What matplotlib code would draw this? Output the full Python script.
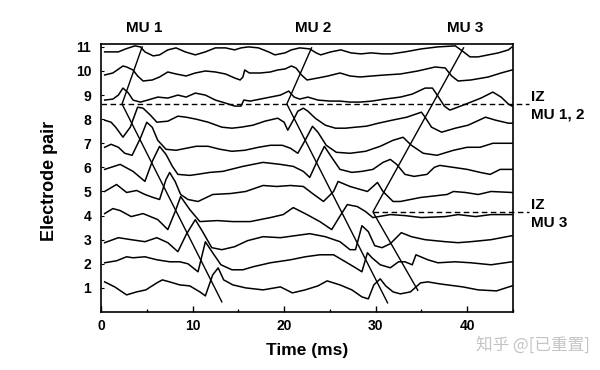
import numpy as np
import matplotlib
matplotlib.use("Agg")
import matplotlib.pyplot as plt
from matplotlib.transforms import blended_transform_factory

# surface EMG traces, one per electrode pair: (time in ms, amplitude in a.u.)
# one electrode-pair step on the y axis equals 24.1 amplitude units
ch1 = [(0.4, 6), (1.5, 1), (2.8, -7), (3.9, -4), (4.9, -2), (6.1, 5), (6.7, 8), (7.5, 6),
       (8.6, 3), (9.7, 2), (10.8, -4), (11.4, -8), (12.2, 13), (12.8, 20), (13.4, 8),
       (14.4, 3), (15.8, 0), (17.7, -2), (19.6, 1), (20.9, -5), (22.3, -2), (23.7, 2),
       (24.7, 7), (26.1, 3), (27.4, -2), (28.5, -9), (29.2, -11), (29.8, 3), (30.5, 9),
       (31.1, 2), (31.9, -4), (32.7, -6), (33.8, -4), (34.9, 5), (35.7, 6), (37.0, 4),
       (39.5, 1), (41.2, -2), (43.2, -3), (44.9, 2)]
ch2 = [(0.4, 1), (1.7, 3), (2.8, 7), (3.5, 6), (4.8, 7), (6.1, 4), (7.5, 2), (8.6, 2),
       (9.5, 0), (10.6, -8), (11.4, 22), (12.2, 11), (13.1, -1), (14.3, -6), (15.5, -6),
       (16.6, -3), (18.5, 1), (20.7, 4), (22.3, 7), (23.9, 9), (25.4, 9), (26.7, 2),
       (27.8, -4), (28.5, -8), (29.1, 11), (29.6, 6), (30.5, -1), (31.6, -4), (32.5, 2),
       (33.2, 2), (34.0, -1), (34.4, 9), (35.7, 4), (36.8, 1), (38.7, 2), (40.4, 1),
       (42.6, -1), (44.9, 2)]
ch3 = [(0.4, -3), (1.9, 2), (3.3, 0), (4.8, -2), (6.1, 2), (7.3, -3), (8.4, -12), (9.3, 5),
       (10.3, 20), (11.1, 8), (12.1, -8), (13.2, -10), (14.6, -7), (16.0, -1), (17.7, 3),
       (19.6, 2), (21.2, 4), (22.8, 6), (24.5, 3), (26.1, -2), (27.2, -10), (27.8, -10),
       (28.5, 14), (29.2, 8), (29.9, -6), (30.7, -8), (31.6, -4), (32.8, 7), (33.9, 3),
       (35.4, 0), (37.6, -2), (39.0, -3), (40.4, -2), (42.6, 0), (44.9, 4)]
ch4 = [(0.4, 2), (1.3, 7), (2.1, 5), (3.3, -1), (4.6, 2), (6.2, -4), (7.3, -14), (8.1, 4),
       (8.7, 19), (9.7, 6), (10.8, -6), (12.7, -5), (14.4, -6), (16.3, -6), (18.5, -2),
       (19.9, 1), (21.0, 8), (22.5, 1), (23.9, -6), (25.2, -14), (26.0, -2), (26.9, 11),
       (28.0, 9), (28.9, 4), (29.7, -2), (31.6, 1), (33.2, 0), (35.0, -2), (37.6, -1),
       (39.0, 1), (40.9, -1), (42.6, 1), (44.9, 1)]
ch5 = [(0.4, 0), (1.7, 7), (2.8, -1), (3.9, 1), (4.8, -3), (5.7, -6), (6.4, -8), (7.1, 12),
       (7.5, 19), (8.1, 10), (8.7, -3), (9.5, -8), (10.6, -10), (12.2, -3), (14.2, -2),
       (15.8, 0), (17.7, 6), (19.2, 5), (20.7, 6), (22.1, 5), (23.1, -2), (24.3, -10),
       (25.4, 0), (25.9, 10), (27.2, 5), (29.1, 0), (30.2, 9), (30.8, 0), (31.9, -10),
       (32.7, -10), (34.9, -6), (37.8, -3), (38.5, 0), (39.8, -1), (41.2, -3), (42.6, 0),
       (44.9, -1)]
ch6 = [(0.4, -2), (2.1, 3), (3.5, -4), (4.8, -14), (5.6, 6), (6.4, 21), (7.1, 13), (7.8, 1),
       (8.4, -7), (9.7, -8), (10.5, -7), (11.9, -5), (13.3, -4), (15.5, 1), (17.7, 5),
       (19.6, 3), (21.0, 1), (22.1, -4), (22.8, -10), (23.7, 8), (24.4, 21), (25.2, 10),
       (26.1, -2), (27.4, -5), (28.5, -4), (29.7, -2), (30.8, 5), (31.6, 8), (32.3, 3),
       (33.2, -7), (34.2, -9), (35.6, -7), (36.4, 0), (37.0, 2), (38.5, 0), (40.0, -2),
       (41.4, -5), (42.5, -7), (43.6, -2), (44.9, -2)]
ch7 = [(0.4, -4), (1.1, -1), (1.9, -4), (2.6, -10), (3.4, -12), (4.3, 5), (5.0, 21),
       (5.6, 16), (6.2, 3), (7.1, -6), (8.2, -7), (9.3, -5), (10.4, -3), (11.7, -3),
       (13.0, -6), (14.3, -8), (15.7, -7), (17.2, -4), (18.5, -2), (19.8, -2), (20.7, -5),
       (21.5, -10), (22.3, 3), (23.1, 17), (23.7, 11), (24.6, -2), (25.7, -9), (27.2, -10),
       (28.9, -8), (30.5, -3), (31.9, 3), (33.0, 6), (33.9, -2), (35.2, -10), (36.7, -12),
       (38.5, -7), (40.0, -4), (41.4, -4), (42.8, 0), (44.2, 0), (44.9, 0)]
ch8 = [(0.4, -1), (1.1, -3), (1.6, -8), (2.4, -18), (3.2, -8), (4.0, 12), (4.6, 11), (5.4, 4),
       (6.1, -3), (7.3, -2), (8.4, 3), (9.3, 2), (10.4, 0), (11.7, -3), (13.2, -8), (14.3, -9),
       (15.3, -8), (16.6, -6), (17.9, -2), (19.3, 1), (20.0, -3), (20.4, -11), (21.0, -1),
       (21.5, 8), (22.1, 11), (22.6, 8), (23.4, 1), (24.5, -6), (25.6, -9), (26.7, -9),
       (27.8, -8), (29.0, -7), (30.3, -4), (31.8, -1), (33.4, 2), (35.0, 7), (35.4, 2),
       (36.1, -8), (37.2, -13), (38.7, -9), (40.1, -6), (42.0, 2), (43.1, -1), (44.5, -4),
       (44.9, -4)]
ch9 = [(0.4, -5), (1.3, -4), (1.9, 0), (2.4, 7), (3.0, 2), (3.5, -5), (4.3, -7), (5.1, -5),
       (6.2, -2), (7.3, -3), (8.4, 0), (9.3, -2), (10.3, 2), (11.4, 0), (12.5, -5), (13.6, -8),
       (14.6, -11), (15.3, -11), (15.6, -5), (16.3, -6), (17.4, -4), (18.5, -2), (19.6, 0),
       (20.5, 4), (21.1, -2), (21.7, -4), (22.6, -2), (23.7, -5), (25.0, -6), (26.1, -6),
       (27.2, -7), (28.3, -7), (29.6, -6), (31.0, -4), (32.7, -2), (34.0, 1), (35.4, 7),
       (36.2, 7), (36.8, -1), (37.5, -11), (38.1, -15), (39.0, -12), (40.4, -7), (41.5, -3),
       (42.8, 3), (43.7, -2), (44.5, -9), (44.9, -11)]
ch10 = [(0.4, -4), (1.3, -2), (2.4, 5), (2.8, 4), (3.5, 1), (4.0, -5), (4.6, -10), (5.6, -9),
        (6.4, -6), (7.3, -1), (8.2, -3), (9.3, -5), (10.3, -2), (11.4, 0), (12.5, -1),
        (13.6, -3), (14.6, -7), (15.2, -9), (15.5, -6), (15.7, 1), (16.2, -2), (17.4, -2),
        (18.5, -1), (19.3, 1), (20.1, 2), (20.8, 5), (21.3, 3), (21.9, -4), (22.5, -9),
        (23.7, -7), (24.8, -5), (26.1, -2), (27.2, -5), (28.3, -6), (29.6, -5), (31.0, -4),
        (32.7, -3), (34.6, 0), (36.5, 4), (37.6, 3), (38.3, -5), (39.0, -10), (40.4, -9),
        (42.3, -6), (43.7, -2), (44.9, 1)]
ch11 = [(0.4, -5), (1.9, -5), (2.7, -2), (3.7, 1), (4.3, 0), (4.8, -5), (5.7, -9), (6.4, -8),
        (7.3, -3), (8.2, -1), (9.2, -5), (10.3, -8), (11.4, -5), (12.5, -1), (13.6, -1),
        (14.6, -3), (15.3, -1), (16.1, 0), (17.2, -1), (18.3, -5), (19.0, -8), (20.1, -6),
        (20.8, -3), (21.7, -1), (22.8, -2), (23.5, -6), (24.0, -8), (25.1, -5), (26.2, -3),
        (27.3, -6), (28.4, -7), (29.5, -6), (30.8, -7), (31.7, -7), (33.2, -5), (35.0, -2),
        (36.8, 0), (38.7, 1), (39.6, -5), (40.3, -10), (41.2, -10), (42.3, -8), (43.4, -6),
        (44.5, -3), (44.9, 0)]

channels = list(range(1, 12))
traces = [ch1, ch2, ch3, ch4, ch5, ch6, ch7, ch8, ch9, ch10, ch11]
units_per_pair = 24.1

# motor units: innervation zone (time, pair) and the ends of the propagation lines
mu_labels = ["MU 1", "MU 2", "MU 3"]
iz_time = [2.3, 20.3, 29.7]
iz_pair = [8.63, 8.63, 4.15]
up_end_time = [4.5, 23.0, 39.6]
up_end_pair = [11.0, 10.96, 10.96]
down_end_time = [13.2, 31.3, 34.6]
down_end_pair = [0.42, 0.38, 0.9]
iz_notes = ["MU 1, 2", "MU 3"]

plt.rcParams['font.family'] = ['Liberation Sans', 'DejaVu Sans']
plt.rcParams['font.weight'] = 'bold'
plt.rcParams['axes.labelweight'] = 'bold'

fig = plt.figure(figsize=(6, 3.7), dpi=100)
ax = fig.add_axes([0.1683, 0.1568, 0.6867, 0.7243])

# the traces
for ch, tr in zip(channels, traces):
    t = np.array([p[0] for p in tr])
    a = np.array([p[1] for p in tr])
    ax.plot(t, ch + a / units_per_pair, color='black', lw=1.1, solid_joinstyle='round')

# propagation lines, from the top end through the IZ to the bottom end
for i in range(3):
    ax.plot([up_end_time[i], iz_time[i], down_end_time[i]],
            [up_end_pair[i], iz_pair[i], down_end_pair[i]], color='black', lw=1.0)

# IZ markers (dashed), running out past the frame to the notes
ax.plot([0, 46.8], [iz_pair[0], iz_pair[0]], color='black', lw=1.0,
        ls=(0, (4, 2.5)), clip_on=False)
ax.plot([iz_time[2], 46.8], [iz_pair[2], iz_pair[2]], color='black', lw=1.0,
        ls=(0, (4, 2.5)), clip_on=False)
for y_iz, note in zip([iz_pair[0], iz_pair[2]], iz_notes):
    ax.text(47.0, y_iz + 0.3, "IZ", fontsize=11, ha='left', va='center')
    ax.text(47.0, y_iz - 0.45, note, fontsize=11, ha='left', va='center')

# MU names above the frame
trans = blended_transform_factory(ax.transData, ax.transAxes)
for i in range(3):
    ax.text(up_end_time[i] + 0.2, 1.06, mu_labels[i], transform=trans,
            ha='center', va='center', fontsize=11)

ax.set_xlim(0, 45)
ax.set_ylim(0, 11.12)
ax.set_xticks([0, 10, 20, 30, 40])
ax.set_xticks([5, 15, 25, 35, 45], minor=True)
ax.set_yticks(channels)
ax.tick_params(axis='both', which='both', direction='in', labelsize=10)
ax.tick_params(axis='x', which='major', length=4, width=1, pad=5)
ax.tick_params(axis='x', which='minor', length=2.5, width=1)
ax.tick_params(axis='y', which='major', length=2, width=0.8, pad=7)
for sp in ax.spines.values():
    sp.set_linewidth(1.2)

ax.set_xlabel("Time (ms)", fontsize=12.5, fontweight='bold')
ax.xaxis.set_label_coords(0.5, -0.115)
ax.set_ylabel("Electrode pair", fontsize=13, fontweight='bold')
ax.yaxis.set_label_coords(-0.105, 0.49)

fig.text(0.983, 0.068, "知乎 @[已重置]", ha='right', va='center', color='#c4c4c4',
         fontsize=12, fontweight='normal', family=['Noto Sans CJK SC', 'DejaVu Sans'])

plt.savefig("out.png", dpi=100)
